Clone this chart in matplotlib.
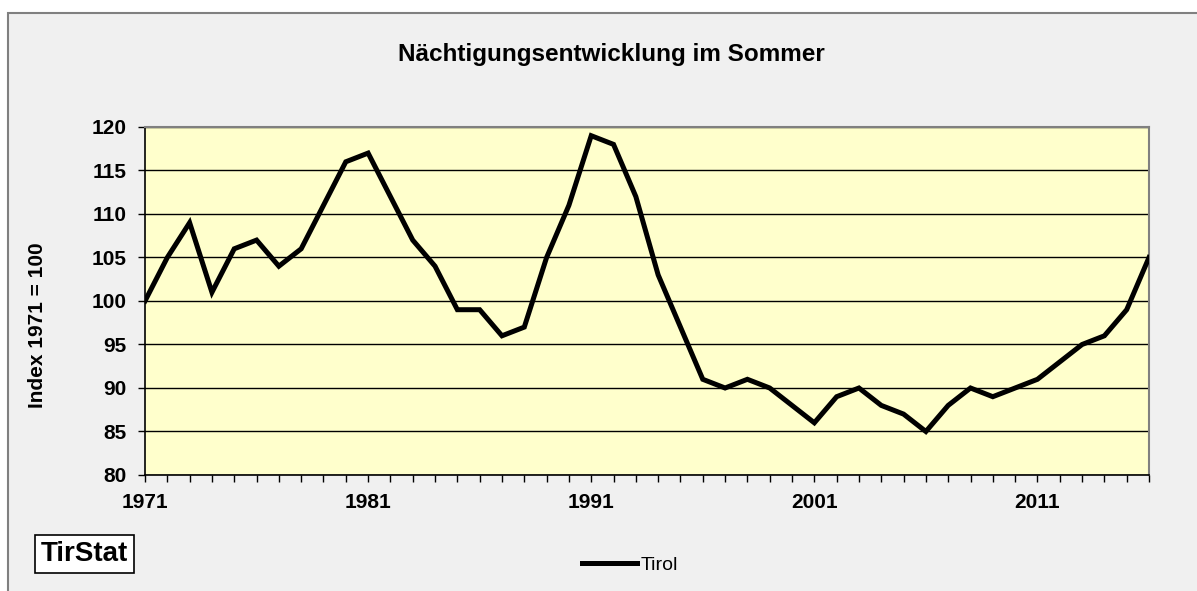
import matplotlib.pyplot as plt
from matplotlib.patches import Rectangle

years = list(range(1971, 2017))
tirol = [100, 105, 109, 101, 106, 107, 104, 106, 111, 116,
         117, 112, 107, 104, 99, 99, 96, 97, 105, 111,
         119, 118, 112, 103, 97, 91, 90, 91, 90, 88,
         86, 89, 90, 88, 87, 85, 88, 90, 89, 90,
         91, 93, 95, 96, 99, 105]
year_labels = [1971, 1981, 1991, 2001, 2011]

plt.rcParams['font.family'] = ['Liberation Sans', 'DejaVu Sans']

fig = plt.figure(figsize=(11.97, 5.91), dpi=100)
fig.patch.set_facecolor('white')

# grauer Rahmen um die Grafik
fig.patches.append(Rectangle((8 / 1197, -0.05), 1.1, 0.978 + 0.05, transform=fig.transFigure,
                             facecolor='#f0f0f0', edgecolor='#808080', linewidth=1.5, zorder=-5))

ax = fig.add_axes([145 / 1197, 1 - 475 / 591, 1004 / 1197, 348 / 591])
ax.set_facecolor('#ffffcc')
ax.plot(years, tirol, color='black', linewidth=3.6, label='Tirol', solid_joinstyle='miter', zorder=3)

ax.set_xlim(1971, 2016)
ax.set_ylim(80, 120)
ax.set_yticks(range(80, 121, 5))
ax.set_xticks(years, minor=True)
ax.set_xticks(year_labels)
ax.set_xticklabels([str(y) for y in year_labels], fontweight='bold', fontsize=15)
for lab in ax.get_yticklabels():
    lab.set_fontweight('bold')
    lab.set_fontsize(15)
ax.grid(axis='y', color='black', linewidth=1.0)
ax.tick_params(axis='both', which='both', direction='out', length=5, width=1, color='black')
ax.tick_params(axis='x', which='major', pad=8)
ax.tick_params(axis='y', pad=8)
for s in ['top', 'right']:
    ax.spines[s].set_color('#808080')
    ax.spines[s].set_linewidth(1.5)
for s in ['left', 'bottom']:
    ax.spines[s].set_color('black')
    ax.spines[s].set_linewidth(1.2)

fig.text(38 / 1197, 1 - 325 / 591, 'Index 1971 = 100', rotation=90, ha='center', va='center',
         fontweight='bold', fontsize=15)

fig.text(0.511, 0.908, 'Nächtigungsentwicklung im Sommer', ha='center', va='center',
         fontweight='bold', fontsize=17.5)

fig.text(84.5 / 1197, 1 - 554 / 591, 'TirStat', ha='center', va='center', fontweight='bold', fontsize=20,
         bbox=dict(boxstyle='square,pad=0.2', facecolor='white', edgecolor='black', linewidth=1.2))

fig.legend(loc='center', bbox_to_anchor=(630 / 1197, 1 - 565 / 591), frameon=False,
           fontsize=14, handlelength=2.8, handletextpad=0.2)

fig.savefig('out.png', dpi=100, facecolor='white')
